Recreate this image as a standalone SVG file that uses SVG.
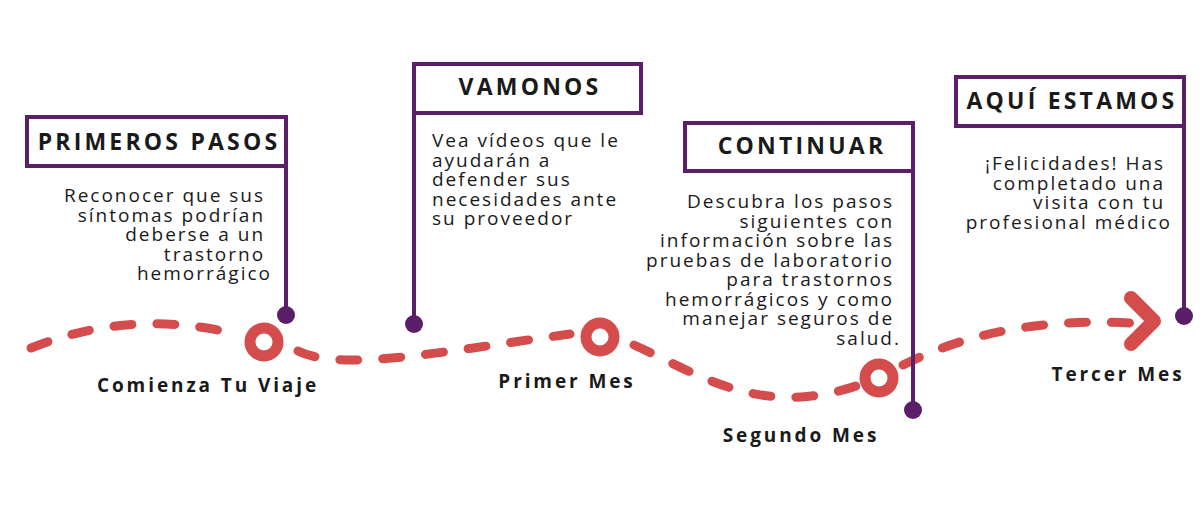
<svg xmlns="http://www.w3.org/2000/svg" width="1200" height="525" viewBox="0 0 1200 525">
<style>
.box{fill:#fff;stroke:#5b1f69;stroke-width:4}
.stem{stroke:#5b1f69;stroke-width:4;fill:none}
.dot{fill:#5b1f69}
.title{font-family:"Open Sans","Liberation Sans",sans-serif;font-weight:700;font-size:23px;letter-spacing:3.2px;fill:#1a1a1a;text-anchor:middle}
.body{font-family:"Open Sans","Liberation Sans",sans-serif;font-size:19px;letter-spacing:2px;fill:#1a1a1a}
.r{text-anchor:end}
.lbl{font-family:"Open Sans","Liberation Sans",sans-serif;font-weight:700;font-size:19px;letter-spacing:2.9px;fill:#1a1a1a;text-anchor:middle}
.dash{fill:none;stroke:#d54c4c;stroke-width:9;stroke-linecap:round;stroke-dasharray:18 25}
.ring{fill:#fff;stroke:#d54c4c;stroke-width:11}
</style>
<rect width="1200" height="525" fill="#fff"/>
<g id="connectors">
<path class="dash" d="M31,348 Q130,308 236,334"/>
<path class="dash" d="M298,351 C340,372 440,352 570,334"/>
<path class="dash" d="M634,345 C700,375 760,418 856,386"/>
<path class="dash" d="M903,365 Q1000,316 1130,323"/>
<path d="M1131,298 L1154,321 L1131,344" fill="none" stroke="#d54c4c" stroke-width="14" stroke-linecap="round" stroke-linejoin="round"/>
</g>
<g id="primeros-pasos">
<line class="stem" x1="286" y1="166" x2="286" y2="315"/>
<circle class="dot" cx="286" cy="315" r="9"/>
<rect class="box" x="27" y="117" width="259" height="49"/>
<text class="title" x="159" y="150">PRIMEROS PASOS</text>
<text class="body r">
<tspan x="272" y="202">Reconocer que sus</tspan>
<tspan x="272" y="221.5">síntomas podrían</tspan>
<tspan x="272" y="241">deberse a un</tspan>
<tspan x="272" y="260.5">trastorno</tspan>
<tspan x="272" y="280">hemorrágico</tspan>
</text>
</g>
<g id="vamonos">
<line class="stem" x1="414" y1="113" x2="414" y2="324"/>
<circle class="dot" cx="414" cy="324" r="9"/>
<rect class="box" x="414" y="64" width="227" height="49"/>
<text class="title" x="530" y="95">VAMONOS</text>
<text class="body">
<tspan x="432" y="147">Vea vídeos que le</tspan>
<tspan x="432" y="166.5">ayudarán a</tspan>
<tspan x="432" y="186">defender sus</tspan>
<tspan x="432" y="205.5">necesidades ante</tspan>
<tspan x="432" y="225">su proveedor</tspan>
</text>
</g>
<g id="continuar">
<line class="stem" x1="913" y1="173" x2="913" y2="410"/>
<circle class="dot" cx="913" cy="410" r="9"/>
<rect class="box" x="685" y="123" width="228" height="48"/>
<text class="title" x="802" y="154">CONTINUAR</text>
<text class="body r">
<tspan x="901" y="208">Descubra los pasos</tspan>
<tspan x="901" y="227.5">siguientes con</tspan>
<tspan x="901" y="247">información sobre las</tspan>
<tspan x="901" y="266.5">pruebas de laboratorio</tspan>
<tspan x="901" y="286">para trastornos</tspan>
<tspan x="901" y="305.5">hemorrágicos y como</tspan>
<tspan x="901" y="325">manejar seguros de</tspan>
<tspan x="901" y="344.5">salud.</tspan>
</text>
</g>
<g id="aqui-estamos">
<line class="stem" x1="1184" y1="128" x2="1184" y2="316"/>
<circle class="dot" cx="1184" cy="316" r="9"/>
<rect class="box" x="956" y="77" width="228" height="49"/>
<text class="title" x="1072" y="109">AQUÍ ESTAMOS</text>
<text class="body r">
<tspan x="1172" y="170">¡Felicidades! Has</tspan>
<tspan x="1172" y="189.5">completado una</tspan>
<tspan x="1172" y="209">visita con tu</tspan>
<tspan x="1172" y="228.5">profesional médico</tspan>
</text>
</g>
<g id="comienza">
<circle class="ring" cx="264" cy="342" r="14"/>
<text class="lbl" x="208" y="392">Comienza Tu Viaje</text>
</g>
<g id="primer-mes">
<circle class="ring" cx="600" cy="337" r="14"/>
<text class="lbl" x="567" y="388">Primer Mes</text>
</g>
<g id="segundo-mes">
<circle class="ring" cx="879" cy="378" r="14"/>
<text class="lbl" x="801" y="442">Segundo Mes</text>
</g>
<g id="tercer-mes">
<text class="lbl" x="1118" y="381">Tercer Mes</text>
</g>
</svg>
